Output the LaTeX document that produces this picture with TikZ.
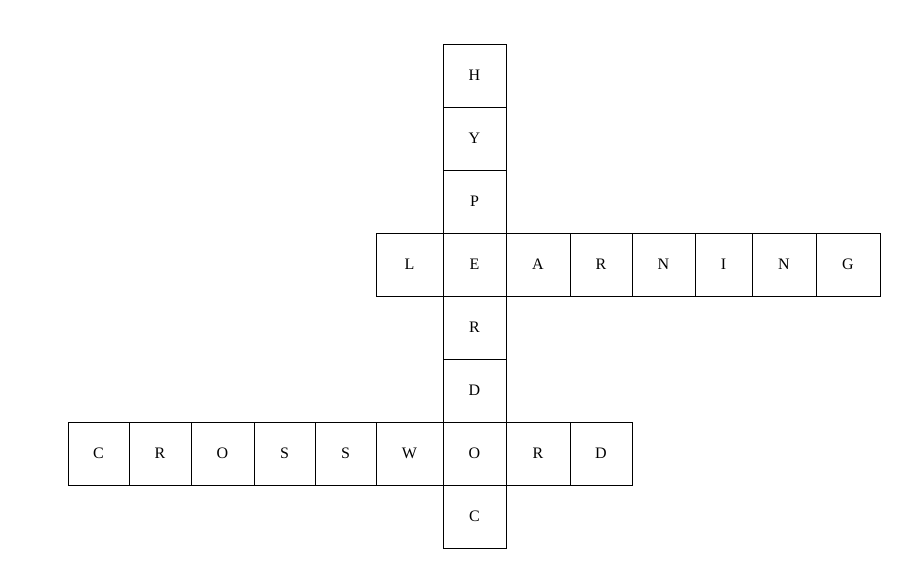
\documentclass[tikz,border=0pt]{standalone}
\usepackage{fontspec}
\setmainfont{Liberation Serif}
\begin{document}
\begin{tikzpicture}[x=1pt,y=-1pt,
  cell/.style={draw=black,line width=0.9pt,font=\fontsize{16}{16}\selectfont,inner sep=0pt,anchor=center}]
\useasboundingbox (0,0) rectangle (922,583);
\fill[white] (0,0) rectangle (922,583);
% cell(name, x0, y0, x1, y1, letter)
\newcommand{\cellbox}[6]{%
  \draw[line width=0.9pt] (#2,#3) rectangle (#4,#5);
  \node[font=\fontsize{16}{16}\selectfont,inner sep=0pt] (#1) at ({(#2+#4)/2},{(#3+#5)/2}) {#6};}
% vertical HYPERDOC
\cellbox{v1}{443}{44}{506}{107}{H}
\cellbox{v2}{443}{107}{506}{170}{Y}
\cellbox{v3}{443}{170}{506}{233}{P}
\cellbox{v5}{443}{296}{506}{359}{R}
\cellbox{v6}{443}{359}{506}{422}{D}
\cellbox{v8}{443}{485}{506}{548}{C}
% LEARNING
\cellbox{l1}{376}{233}{443}{296}{L}
\cellbox{l2}{443}{233}{506}{296}{E}
\cellbox{l3}{506}{233}{570}{296}{A}
\cellbox{l4}{570}{233}{632}{296}{R}
\cellbox{l5}{632}{233}{695}{296}{N}
\cellbox{l6}{695}{233}{752}{296}{I}
\cellbox{l7}{752}{233}{816}{296}{N}
\cellbox{l8}{816}{233}{880}{296}{G}
% CROSSWORD
\cellbox{c1}{68}{422}{129}{485}{C}
\cellbox{c2}{129}{422}{191}{485}{R}
\cellbox{c3}{191}{422}{254}{485}{O}
\cellbox{c4}{254}{422}{315}{485}{S}
\cellbox{c5}{315}{422}{376}{485}{S}
\cellbox{c6}{376}{422}{443}{485}{W}
\cellbox{c7}{443}{422}{506}{485}{O}
\cellbox{c8}{506}{422}{570}{485}{R}
\cellbox{c9}{570}{422}{632}{485}{D}
\end{tikzpicture}
\end{document}
